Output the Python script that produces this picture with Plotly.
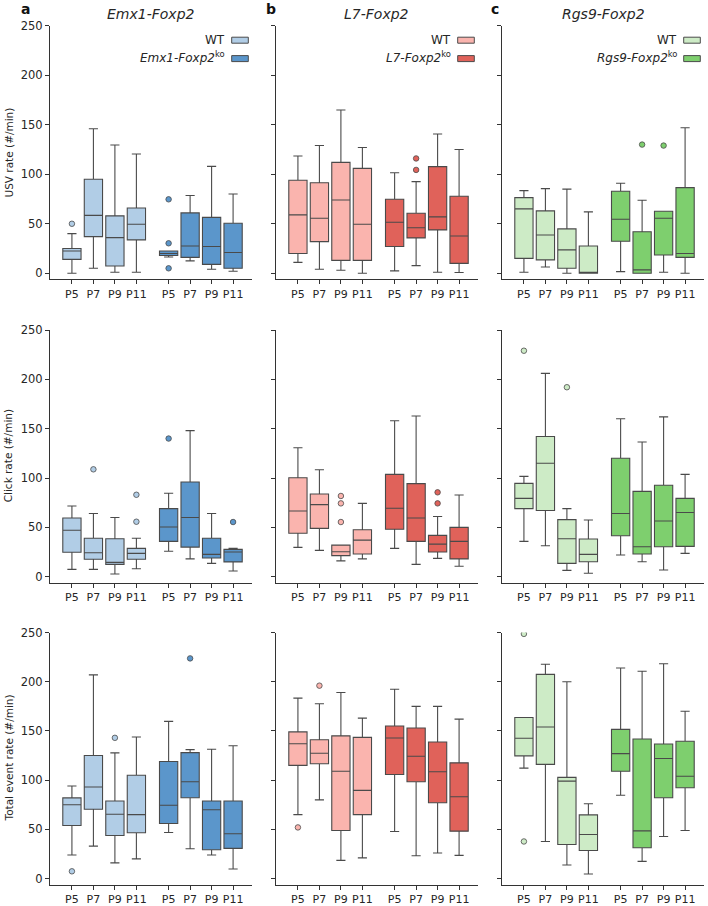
import plotly.graph_objects as go

# ---------------- data ----------------
ages = ["P5", "P7", "P9", "P11"]
lines = ["Emx1-Foxp2", "L7-Foxp2", "Rgs9-Foxp2"]
panel_letters = ["a", "b", "c"]
measures = ["USV rate (#/min)", "Click rate (#/min)", "Total event rate (#/min)"]
y_ticks = [0, 50, 100, 150, 200, 250]

# USV rate
usv_emx1_wt = dict(lo=[0, 5, 1, 1], q1=[14, 37, 7.4, 33.7], med=[22.5, 58.5, 36, 49.5],
                   q3=[25, 95, 58, 66], hi=[40, 146, 129.6, 120.5])
usv_emx1_wt_out = [(0, 50)]
usv_emx1_ko = dict(lo=[16.5, 12.5, 4, 2], q1=[18, 16, 9, 5], med=[20, 27.5, 27, 21],
                   q3=[22.5, 61, 56.5, 50.5], hi=[22.5, 78.5, 108, 80])
usv_emx1_ko_out = [(0, 74.7), (0, 30.3), (0, 5)]
usv_l7_wt = dict(lo=[11, 4, 3, 0], q1=[20, 32, 13, 13], med=[59, 55.5, 74, 49.5],
                 q3=[94, 91.5, 112, 106], hi=[118.5, 129, 165, 127])
usv_l7_wt_out = []
usv_l7_ko = dict(lo=[2.4, 7.7, 1, 0.7], q1=[27, 35.7, 43.8, 10], med=[51.5, 46, 57, 37.7],
                 q3=[74.7, 60.6, 107.7, 77.8], hi=[101.6, 92.6, 140.7, 125])
usv_l7_ko_out = [(1, 116), (1, 104.4)]
usv_rgs9_wt = dict(lo=[1, 6.4, 0, 0], q1=[15, 13.5, 5, 0], med=[65, 38.7, 23.6, 0.7],
                   q3=[76.4, 63, 44.8, 27.6], hi=[83.5, 85.5, 85, 62])
usv_rgs9_wt_out = []
usv_rgs9_ko = dict(lo=[1.7, 0, 1, 0], q1=[32.3, 0, 18.5, 16], med=[54.5, 3.4, 55.5, 20],
                   q3=[82.8, 42, 62.6, 86.5], hi=[91, 73.7, 62.6, 147])
usv_rgs9_ko_out = [(1, 130), (2, 129)]

# Click rate
click_emx1_wt = dict(lo=[7.4, 7.4, 2.7, 8], q1=[24.7, 17.6, 12.5, 17.6], med=[47, 24.3, 14.5, 23.6],
                     q3=[59.5, 39, 38.5, 28.7], hi=[71.6, 64, 60, 39])
click_emx1_wt_out = [(1, 108.8), (3, 83), (3, 55.7)]
click_emx1_ko = dict(lo=[25.7, 18, 13.5, 5.7], q1=[35.8, 30, 19, 15], med=[50.3, 60, 22.6, 25],
                     q3=[69, 96, 39, 27.7], hi=[84.5, 148, 64, 28.7])
click_emx1_ko_out = [(0, 140), (3, 55.4)]
click_l7_wt = dict(lo=[29.7, 26.7, 16, 18], q1=[44, 49, 21.3, 23], med=[66.6, 73, 25.3, 37],
                   q3=[100.3, 83.8, 32, 47.6], hi=[130.7, 108.4, 32, 74.3])
click_l7_wt_out = [(2, 81.8), (2, 74.3), (2, 55.4)]
click_l7_ko = dict(lo=[28.7, 12.5, 18.6, 10.5], q1=[48, 35.8, 25, 18], med=[69.3, 59.5, 33, 35.8],
                   q3=[103.7, 94.3, 41.9, 50], hi=[158, 162.8, 61, 82.8])
click_l7_ko_out = [(2, 85.5), (2, 74.3)]
click_rgs9_wt = dict(lo=[35.8, 31.4, 6.4, 3.4], q1=[69, 67, 13.5, 15.2], med=[79.4, 115, 38.5, 22.6],
                     q3=[94.6, 142, 57.8, 38.2], hi=[101.7, 206, 69, 57.4])
click_rgs9_wt_out = [(0, 229), (2, 192)]
click_rgs9_ko = dict(lo=[22, 15.2, 6.8, 23.6], q1=[41.5, 23, 30.4, 30.7], med=[64, 30.4, 56.4, 65],
                     q3=[120, 86.5, 92.6, 79.4], hi=[160, 136.5, 162, 103.7])
click_rgs9_ko_out = []

# Total event rate
total_emx1_wt = dict(lo=[24, 33, 16, 20], q1=[54, 70.4, 43.8, 46.5], med=[75, 93, 65.4, 65],
                     q3=[82, 125, 78.8, 105], hi=[94, 207, 127.7, 143.9])
total_emx1_wt_out = [(0, 7.4), (2, 143)]
total_emx1_ko = dict(lo=[46.8, 30.3, 24, 9.8], q1=[56, 82.2, 29.3, 30.7], med=[74.5, 98.4, 70, 45.5],
                     q3=[119, 128, 78.8, 78.8], hi=[159.7, 131, 131.4, 135])
total_emx1_ko_out = [(1, 223.7)]
total_l7_wt = dict(lo=[65, 80, 18.5, 21], q1=[115, 116.6, 48.9, 65], med=[137, 127.4, 109, 89.6],
                   q3=[149, 141, 145, 143.5], hi=[183.3, 177.6, 189, 163])
total_l7_wt_out = [(0, 52), (1, 196)]
total_l7_ko = dict(lo=[47.8, 23.2, 26, 23.6], q1=[105.8, 98.4, 77, 48.2], med=[142.9, 124.3, 108.5, 83.2],
                   q3=[155, 153, 138.8, 117.6], hi=[192.4, 175, 175, 162])
total_l7_ko_out = []
total_rgs9_wt = dict(lo=[112.2, 37.7, 13.8, 4.7], q1=[124.7, 116, 34.7, 28.6], med=[142.5, 154, 99, 44.8],
                     q3=[163.7, 207.5, 102.8, 64.7], hi=[163.7, 217.7, 200, 76])
total_rgs9_wt_out = [(0, 248.6), (0, 37.7)]
total_rgs9_ko = dict(lo=[84.6, 17.5, 42.8, 48.9], q1=[109, 31.3, 82.2, 92.3], med=[127, 48.5, 122, 104],
                     q3=[151.6, 141.8, 136.8, 139.5], hi=[214, 210.6, 218.3, 170])
total_rgs9_ko_out = []

grid = [
    [(usv_emx1_wt, usv_emx1_wt_out, usv_emx1_ko, usv_emx1_ko_out),
     (usv_l7_wt, usv_l7_wt_out, usv_l7_ko, usv_l7_ko_out),
     (usv_rgs9_wt, usv_rgs9_wt_out, usv_rgs9_ko, usv_rgs9_ko_out)],
    [(click_emx1_wt, click_emx1_wt_out, click_emx1_ko, click_emx1_ko_out),
     (click_l7_wt, click_l7_wt_out, click_l7_ko, click_l7_ko_out),
     (click_rgs9_wt, click_rgs9_wt_out, click_rgs9_ko, click_rgs9_ko_out)],
    [(total_emx1_wt, total_emx1_wt_out, total_emx1_ko, total_emx1_ko_out),
     (total_l7_wt, total_l7_wt_out, total_l7_ko, total_l7_ko_out),
     (total_rgs9_wt, total_rgs9_wt_out, total_rgs9_ko, total_rgs9_ko_out)],
]

# ---------------- styling ----------------
W, H = 708, 906
FONT = "DejaVu Sans"
TXT = "#262626"
EDGE = "#4a4a4a"
colors = [("#b1cde6", "#5b96cb"), ("#fab4ae", "#e0625a"), ("#cdebc6", "#7ecf6e")]
wt_pos = [0, 1, 2, 3]
ko_pos = [4.5, 5.5, 6.5, 7.5]

col_px = [(50, 252), (276, 478), (502, 704)]
row_px = [(25.8, 279.2), (330.0, 582.6), (632.5, 884.5)]


def px_x(p):
    return p / W


def px_y(p):
    return 1 - p / H


def note(x, y, text, size, xanchor="center", **kw):
    return dict(x=px_x(x), y=px_y(y), xref="paper", yref="paper", text=text,
                showarrow=False, xanchor=xanchor, yanchor="middle",
                font=dict(size=size, color=kw.pop("color", TXT), family=FONT), **kw)


fig = go.Figure()
layout = dict(width=W, height=H, margin=dict(l=0, r=0, t=0, b=0),
              paper_bgcolor="white", plot_bgcolor="white", showlegend=False,
              font=dict(family=FONT, color=TXT, size=11))
annotations = []
shapes = []

for r in range(3):
    for c in range(3):
        k = r * 3 + c + 1
        xa, ya = f"x{k}", f"y{k}"
        wt, wt_out, ko, ko_out = grid[r][c]
        fwt, fko = colors[c]
        for stats, outs, pos, fc in [(wt, wt_out, wt_pos, fwt), (ko, ko_out, ko_pos, fko)]:
            fig.add_trace(go.Box(
                x=pos, q1=stats["q1"], median=stats["med"], q3=stats["q3"],
                lowerfence=stats["lo"], upperfence=stats["hi"],
                width=0.85, whiskerwidth=0.5, fillcolor=fc,
                line=dict(color=EDGE, width=1.1), boxpoints=False,
                xaxis=xa, yaxis=ya, hoverinfo="skip"))
            if outs:
                fig.add_trace(go.Scatter(
                    x=[pos[i] for i, v in outs], y=[v for i, v in outs], mode="markers",
                    marker=dict(size=5.5, color=fc, line=dict(color=EDGE, width=0.8)),
                    xaxis=xa, yaxis=ya, hoverinfo="skip"))
        x0, x1 = col_px[c]
        y0, y1 = row_px[r]
        sfx = "" if k == 1 else str(k)
        layout["xaxis" + sfx] = dict(
            domain=[px_x(x0), px_x(x1)], anchor=ya, range=[-1.02, 8.38],
            tickvals=wt_pos + ko_pos, ticktext=ages + ages, ticks="outside", ticklen=4,
            tickwidth=1, tickcolor="#333", showline=True, linecolor="#333", linewidth=1.2,
            showgrid=False, zeroline=False, tickfont=dict(size=11, color=TXT), automargin=False)
        layout["yaxis" + sfx] = dict(
            domain=[px_y(y1), px_y(y0)], anchor=xa, range=[-6, 250],
            tickvals=y_ticks, showticklabels=(c == 0), ticks="outside", ticklen=4,
            tickwidth=1, tickcolor="#333", showline=True, linecolor="#333", linewidth=1.2,
            showgrid=False, zeroline=False, tickfont=dict(size=11.5, color=TXT), automargin=False)

    # y-axis titles
    yc = (row_px[r][0] + row_px[r][1]) / 2
    annotations.append(note(8, yc, measures[r], 10.5, textangle=-90))

# titles, panel letters, legends
letter_x = [25, 270.5, 495.5]
for c in range(3):
    x0, x1 = col_px[c]
    annotations.append(note(letter_x[c], 9, f"<b>{panel_letters[c]}</b>", 14, color="#111"))
    annotations.append(note((x0 + x1) / 2, 14, f"<i>{lines[c]}</i>", 14))
    fwt, fko = colors[c]
    for j, (lab, fc, yp) in enumerate([("WT", fwt, 40.2), (f"<i>{lines[c]}</i><sup>ko</sup>", fko, 58.6)]):
        shapes.append(dict(type="rect", xref="paper", yref="paper",
                           x0=px_x(x0 + 181.7), x1=px_x(x0 + 198.3),
                           y0=px_y(yp + 3), y1=px_y(yp - 3),
                           fillcolor=fc, line=dict(color=EDGE, width=1)))
        annotations.append(note(x0 + 177, yp + (0 if j == 0 else -1.5), lab, 12, xanchor="right"))

layout["annotations"] = annotations
layout["shapes"] = shapes
fig.update_layout(**layout)
fig.write_html("out.html", config={"displayModeBar": False},
               post_script="document.body.style.margin='0';document.body.style.overflow='hidden';")
